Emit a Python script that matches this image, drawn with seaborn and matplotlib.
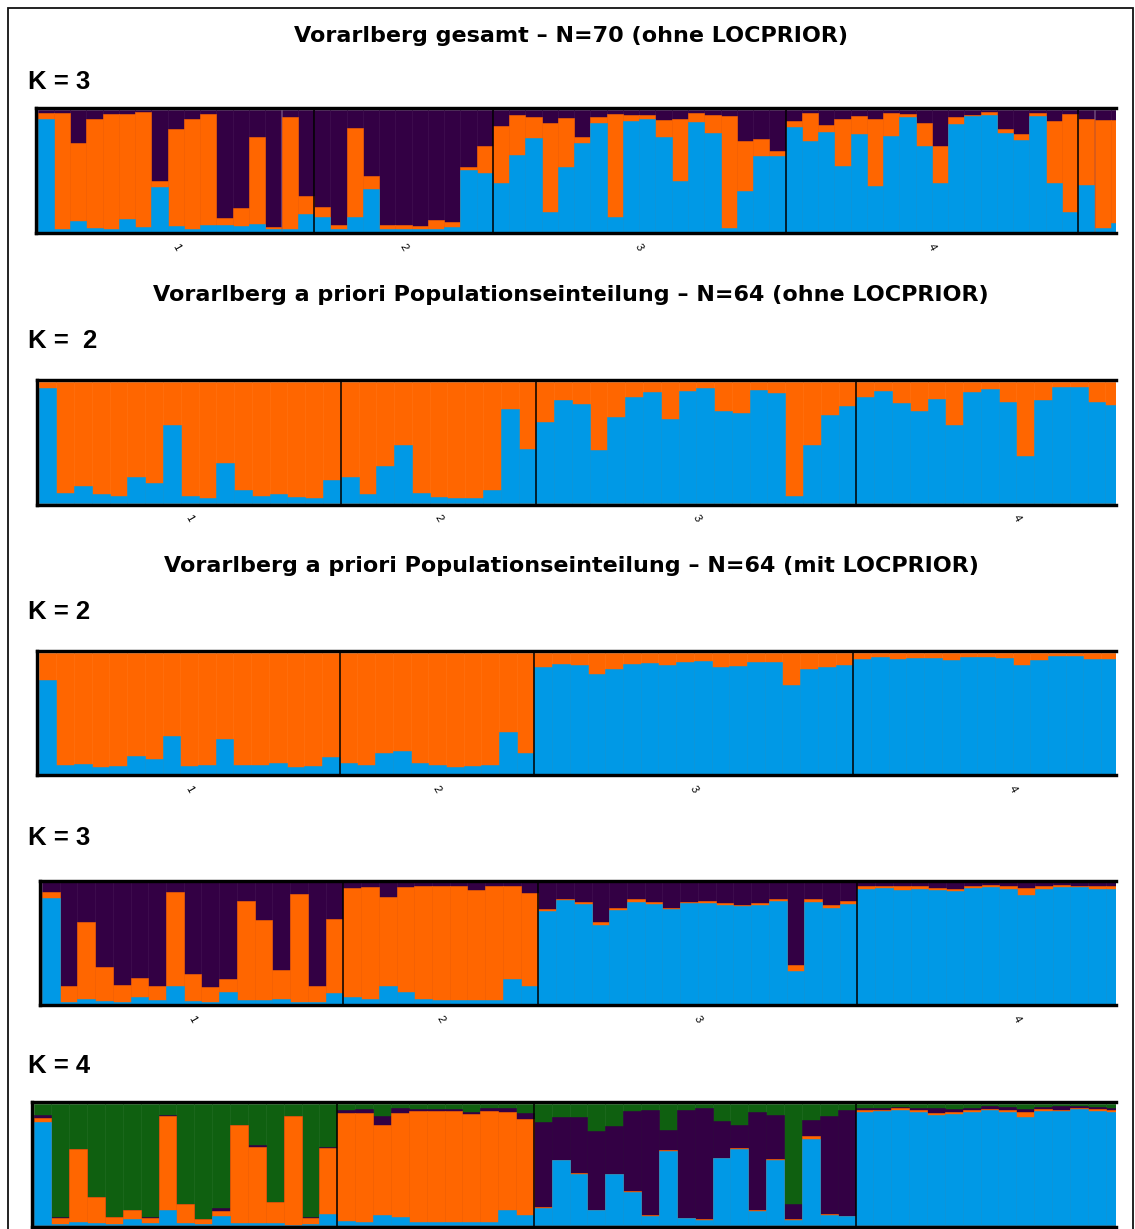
import numpy as np
import pandas as pd
import matplotlib
matplotlib.use('Agg')
import matplotlib.pyplot as plt
from matplotlib.patches import Rectangle
import seaborn as sns

# Cluster colours (STRUCTURE style)
BLUE = '#0099e6'
ORANGE = '#ff6600'
PURPLE = '#330044'
GREEN = '#0f6010'

# ---- Panel 1: Vorarlberg gesamt, K=3 (ohne LOCPRIOR), visible individuals ----
p1_pops = [17, 11, 18, 18, 6]
p1_blue = [.926, .022, .09, .033, .02, .104, .038, .367, .049, .025, .052, .058, .044, .063, .02, .025, .145,
           .12, .022, .123, .353, .025, .022, .02, .025, .036, .507, .485,
           .40, .627, .773, .16, .534, .73, .896, .12, .91, .926, .778, .416, .904, .808, .03, .337, .62, .622,
           .863, .748, .816, .537, .80, .378, .786, .94, .707, .40, .885, .95, .956, .81, .75, .953, .40, .16,
           .384, .027, .068]
p1_orange = [.047, .951, .64, .897, .95, .86, .942, .047, .791, .905, .918, .054, .146, .717, .016, .915, .145,
             .085, .03, .732, .107, .03, .033, .03, .071, .041, .023, .222,
             .47, .333, .167, .73, .40, .045, .049, .844, .046, .03, .142, .514, .071, .152, .923, .408, .144, .041,
             .049, .227, .061, .393, .153, .552, .187, .024, .183, .30, .055, .01, .024, .035, .05, .022, .51, .81,
             .546, .891, .847]
p1_purple = [.027, .027, .27, .07, .03, .036, .02, .586, .16, .07, .03, .888, .81, .22, .964, .06, .71,
             .795, .948, .145, .54, .945, .945, .95, .904, .923, .47, .293,
             .13, .04, .06, .11, .066, .225, .055, .036, .044, .044, .08, .07, .025, .04, .047, .255, .236, .337,
             .088, .025, .123, .07, .047, .07, .027, .036, .11, .30, .06, .04, .02, .155, .20, .025, .09, .03,
             .07, .082, .085]

# ---- Panel 2: a priori, K=2 (ohne LOCPRIOR) ----
p2_pops = [17, 11, 18, 18]
p2_blue = [.945, .082, .142, .074, .058, .219, .164, .641, .063, .047, .334, .107, .06, .079, .055, .044, .192,
           .214, .074, .31, .482, .082, .055, .041, .041, .107, .773, .449,
           .666, .849, .816, .441, .71, .874, .915, .693, .92, .948, .756, .74, .932, .904, .06, .479, .729, .80,
           .877, .923, .825, .759, .86, .644, .912, .942, .836, .389, .849, .956, .956, .836, .805]
p2_orange = [round(1 - v, 3) for v in p2_blue]

# ---- Panel 3: a priori, K=2 (mit LOCPRIOR) ----
p3_pops = [17, 11, 18, 18]
p3_blue = [.777, .071, .08, .058, .066, .148, .124, .31, .06, .071, .288, .074, .071, .09, .055, .06, .14,
           .09, .071, .173, .187, .085, .071, .058, .06, .071, .34, .168,
           .88, .909, .896, .827, .868, .907, .915, .898, .923, .931, .879, .893, .926, .92, .731, .863, .879, .896,
           .948, .964, .945, .953, .956, .937, .964, .967, .956, .901, .942, .973, .973, .948, .945]
p3_orange = [round(1 - v, 3) for v in p3_blue]

# ---- Panel 4: a priori, K=3 (mit LOCPRIOR) ----
p4_pops = [17, 11, 18, 18]
p4_blue = [.871, .016, .036, .022, .014, .058, .03, .142, .019, .011, .099, .027, .027, .036, .014, .011, .09,
           .052, .036, .145, .096, .036, .033, .027, .03, .033, .20, .142,
           .767, .855, .825, .649, .775, .838, .825, .781, .827, .833, .814, .805, .811, .844, .268, .836, .792, .819,
           .948, .956, .942, .945, .942, .929, .956, .964, .945, .896, .945, .959, .962, .945, .945]
p4_orange = [.049, .129, .635, .278, .139, .15, .112, .778, .228, .129, .101, .817, .661, .238, .893, .137, .606,
             .904, .923, .732, .868, .937, .934, .94, .907, .934, .775, .77,
             .017, .011, .011, .022, .017, .022, .011, .011, .009, .011, .019, .011, .016, .016, .05, .03, .019, .025,
             .025, .011, .028, .022, .014, .019, .011, .014, .022, .055, .025, .019, .013, .028, .028]
p4_purple = [.08, .855, .329, .70, .847, .792, .858, .08, .753, .86, .80, .156, .312, .726, .093, .852, .304,
             .044, .041, .123, .036, .027, .033, .033, .063, .033, .025, .088,
             .216, .134, .164, .329, .208, .14, .164, .208, .164, .156, .167, .184, .173, .14, .682, .134, .189, .156,
             .027, .033, .03, .033, .044, .052, .033, .022, .033, .049, .03, .022, .025, .027, .027]

# ---- Panel 5: a priori, K=4 (mit LOCPRIOR) ----
p5_pops = [17, 11, 18, 18]
p5_blue = [.849, .014, .03, .019, .014, .049, .022, .123, .016, .008, .079, .019, .019, .022, .005, .008, .096,
           .038, .027, .085, .066, .03, .027, .025, .025, .027, .123, .085,
           .142, .537, .425, .123, .419, .277, .079, .616, .058, .044, .551, .633, .118, .54, .044, .715, .085, .074,
           .934, .94, .948, .932, .912, .921, .937, .948, .934, .893, .942, .94, .956, .945, .932]
p5_orange = [.039, .049, .597, .211, .052, .074, .036, .778, .159, .041, .041, .806, .63, .17, .894, .055, .545,
             .885, .902, .74, .863, .91, .913, .92, .89, .915, .814, .789,
             .006, .005, .005, .006, .008, .008, .006, .006, .005, .005, .005, .005, .005, .005, .005, .022, .005, .005,
             .017, .011, .019, .019, .014, .013, .014, .011, .019, .039, .02, .008, .011, .017, .021]
p5_purple = [.019, .003, .003, .003, .002, .003, .008, .009, .003, .003, .02, .005, .009, .003, .002, .003, .006,
             .028, .027, .076, .035, .022, .019, .014, .022, .022, .033, .052,
             .707, .348, .463, .649, .395, .657, .863, .167, .89, .918, .304, .192, .814, .362, .129, .131, .814, .869,
             .019, .016, .006, .019, .041, .025, .019, .022, .02, .03, .011, .038, .014, .011, .017]
p5_green = [.093, .934, .37, .767, .932, .874, .934, .09, .822, .948, .86, .17, .342, .805, .099, .934, .353,
            .049, .044, .099, .036, .038, .041, .041, .063, .036, .03, .074,
            .145, .11, .107, .222, .178, .058, .052, .211, .047, .033, .14, .17, .063, .093, .822, .132, .096, .052,
            .03, .033, .027, .03, .033, .041, .03, .019, .027, .038, .027, .014, .019, .027, .03]

pop_labels = ['1', '2', '3', '4']

titles = ['Vorarlberg gesamt \u2013 N=70 (ohne LOCPRIOR)',
          'Vorarlberg a priori Populationseinteilung \u2013 N=64 (ohne LOCPRIOR)',
          'Vorarlberg a priori Populationseinteilung \u2013 N=64 (mit LOCPRIOR)']
k_labels = ['K = 3', 'K =  2', 'K = 2', 'K = 3', 'K = 4']

# ---- figure setup ----
W, H = 1135, 1229
sns.set_theme(style='white')
plt.rcParams['font.family'] = ['Liberation Sans', 'DejaVu Sans']
plt.rcParams['text.color'] = 'black'
fig = plt.figure(figsize=(W / 100, H / 100), dpi=100)

SPINE_PX = 3.4
RIGHT_PX = 1115.7


def structure_panel(layers, colors, pops, start, bw, top, bottom, show_labels=True):
    half = SPINE_PX / 2
    left = start - half
    ax = fig.add_axes([left / W, 1 - bottom / H, (RIGHT_PX - left) / W, (bottom - top) / H])
    n = len(layers[0])
    idx = np.arange(n)
    cum = np.cumsum(np.array(layers), axis=0)
    # draw from the top cluster down so lower clusters overlay
    for k in range(len(layers) - 1, -1, -1):
        h = cum[k] if k < len(layers) - 1 else np.maximum(cum[k], 1.0)
        sns.barplot(x=idx, y=h, color=colors[k], width=1, saturation=1, errorbar=None,
                    linewidth=0.4, edgecolor=colors[k], ax=ax)
    bounds = np.cumsum(pops)
    for b in bounds[:-1]:
        ax.axvline(b - 0.5, color='black', lw=1.1)
    centers = (bounds - np.array(pops) / 2 - 0.5)[:4]
    if show_labels:
        ax.set_xticks(centers)
        ax.set_xticklabels(pop_labels, rotation=-60, fontsize=8, color='black')
    else:
        ax.set_xticks([])
    ax.tick_params(axis='x', length=0, pad=6)
    ax.set_yticks([])
    ax.set_ylabel('')
    inner_h = bottom - top - SPINE_PX
    ax.set_ylim(-half / inner_h, 1 + half / inner_h)
    ax.set_xlim(-0.5 - half / bw, -0.5 + (RIGHT_PX - start) / bw)
    for s in ['left', 'top', 'bottom']:
        ax.spines[s].set_linewidth(SPINE_PX * 0.72)
        ax.spines[s].set_color('black')
    ax.spines['right'].set_visible(False)
    return ax


structure_panel([p1_blue, p1_orange, p1_purple], [BLUE, ORANGE, PURPLE], p1_pops, 37.6, 16.26, 108.3, 233.3)
structure_panel([p2_blue, p2_orange], [BLUE, ORANGE], p2_pops, 38.5, 17.78, 380, 505)
structure_panel([p3_blue, p3_orange], [BLUE, ORANGE], p3_pops, 38.6, 17.71, 651, 775.3)
structure_panel([p4_blue, p4_orange, p4_purple], [BLUE, ORANGE, PURPLE], p4_pops, 41.9, 17.73, 880.8, 1005.3)
structure_panel([p5_blue, p5_orange, p5_purple, p5_green], [BLUE, ORANGE, PURPLE, GREEN], p5_pops,
                33.5, 17.87, 1102.3, 1227, show_labels=False)

# titles and K labels
for t, y in zip(titles, [36, 295, 566]):
    fig.text(571 / W, 1 - y / H, t, ha='center', va='center', fontsize=16, fontweight='bold',
             family=['DejaVu Sans'])
for t, y in zip(k_labels, [82, 341, 612, 838, 1066]):
    fig.text(28 / W, 1 - y / H, t, ha='left', va='center', fontsize=18.5, fontweight='bold')

# outer frame
fig.add_artist(Rectangle((7.5 / W, -0.01), (1133.3 - 7.5) / W, 1.01 - 8 / H, transform=fig.transFigure,
                         fill=False, lw=1.3, ec='#111111'))

fig.savefig('out.png', dpi=100)
